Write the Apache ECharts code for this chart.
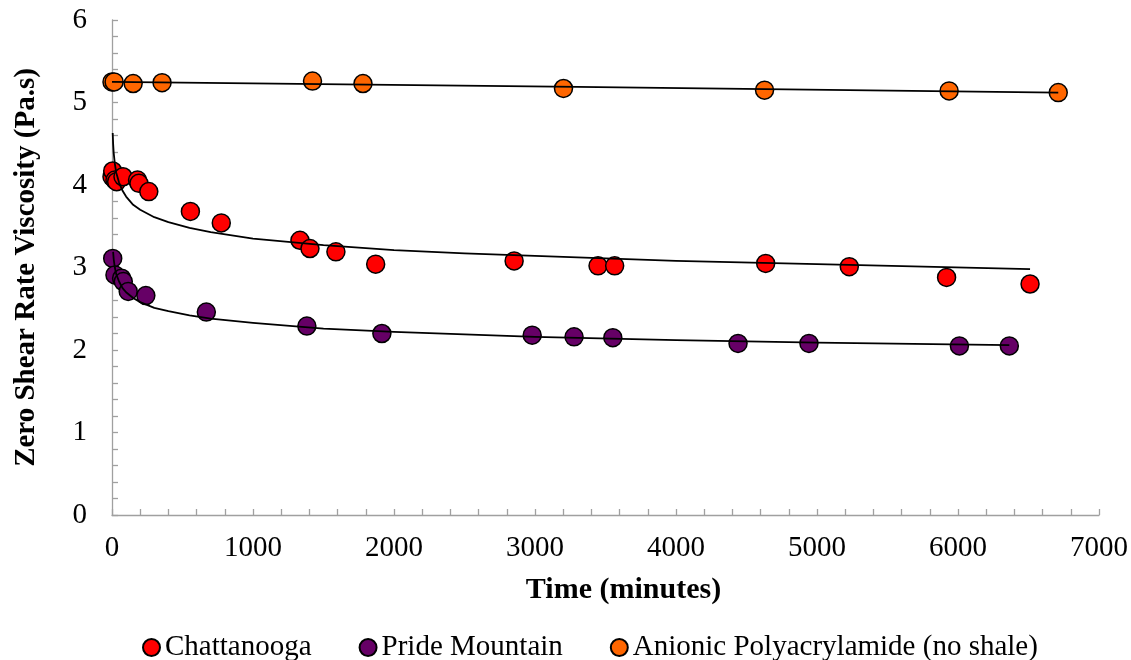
<!DOCTYPE html>
<html>
<head>
<meta charset="utf-8">
<script src="https://cdn.jsdelivr.net/npm/echarts@6/dist/echarts.min.js"></script>
<style>
html,body{margin:0;padding:0;background:#fff;}
#chart{width:1131px;height:660px;}
</style>
</head>
<body>
<div id="chart"></div>
<script>
// ---- data ----
var seriesNames = ['Chattanooga', 'Pride Mountain', 'Anionic Polyacrylamide (no shale)'];

var chattTime = [0, 5, 21, 33, 78, 181, 191, 261, 556, 775, 1333, 1404, 1588, 1870, 2852, 3447, 3565, 4636, 5229, 5919, 6511];
var chattVisc = [4.10, 4.17, 4.06, 4.04, 4.10, 4.06, 4.02, 3.92, 3.68, 3.54, 3.33, 3.23, 3.19, 3.04, 3.08, 3.02, 3.02, 3.05, 3.01, 2.88, 2.80];

var prideTime = [5, 21, 68, 80, 115, 240, 669, 1382, 1914, 2980, 3277, 3552, 4440, 4943, 6010, 6364];
var prideVisc = [3.11, 2.91, 2.87, 2.83, 2.71, 2.66, 2.46, 2.29, 2.20, 2.18, 2.16, 2.15, 2.08, 2.08, 2.05, 2.05];

var apamTime = [0, 15, 150, 355, 1422, 1780, 3202, 4628, 5937, 6711];
var apamVisc = [5.25, 5.25, 5.23, 5.24, 5.26, 5.23, 5.17, 5.15, 5.14, 5.12];

// trend lines, points
var chattTrendTime = [5, 8, 12, 20, 30, 50, 75, 100, 150, 200, 300, 400, 550, 700, 1000, 1500, 2000, 2500, 3000, 4000, 5000, 6511];
var chattTrendVisc = [4.63, 4.50, 4.39, 4.26, 4.15, 4.03, 3.93, 3.86, 3.76, 3.70, 3.61, 3.55, 3.48, 3.43, 3.35, 3.27, 3.21, 3.17, 3.14, 3.08, 3.04, 2.98];

var prideTrendTime = [8, 12, 20, 30, 50, 75, 100, 150, 200, 300, 400, 550, 700, 1000, 1500, 2000, 2500, 3000, 4000, 5000, 6364];
var prideTrendVisc = [3.19, 3.10, 3.00, 2.92, 2.83, 2.75, 2.70, 2.63, 2.58, 2.51, 2.47, 2.42, 2.38, 2.33, 2.26, 2.22, 2.19, 2.16, 2.12, 2.09, 2.06];

var apamTrendTime = [0, 3300, 6711];
var apamTrendVisc = [5.25, 5.19, 5.12];

var xTicks = [0, 1000, 2000, 3000, 4000, 5000, 6000, 7000];
var yTicks = [0, 1, 2, 3, 4, 5, 6];

var colors = ['#FF0000', '#660066', '#FF6600'];

function pairs(t, v) { return t.map(function (x, i) { return [x, v[i]]; }); }

var FONT = 'Liberation Serif';
var axisGray = '#a0a0a0';

var chart = echarts.init(document.getElementById('chart'), null, { renderer: 'canvas' });

function scatter(name, t, v, color) {
  return {
    name: name, type: 'scatter', data: pairs(t, v),
    symbol: 'circle', symbolSize: 18,
    itemStyle: { color: color, borderColor: '#000', borderWidth: 1.5, opacity: 1 },
    z: 2
  };
}
function trend(t, v) {
  return {
    type: 'line', data: pairs(t, v), smooth: false,
    symbol: 'none', silent: true,
    lineStyle: { color: '#000', width: 1.8, join: 'round' },
    z: 5
  };
}

var option = {
  backgroundColor: '#fff',
  animation: false,
  textStyle: { fontFamily: FONT },
  grid: { left: 112, right: 29, top: 20, bottom: 145, containLabel: false },
  legend: {
    data: seriesNames,
    left: 137, top: 628,
    itemWidth: 17, itemHeight: 17, itemGap: 47,
    textStyle: { fontFamily: FONT, fontSize: 29, color: '#000' }
  },
  xAxis: {
    type: 'value', min: xTicks[0], max: xTicks[xTicks.length - 1], interval: 1000,
    name: 'Time (minutes)', nameLocation: 'middle', nameGap: 60,
    nameTextStyle: { fontFamily: FONT, fontSize: 30, fontWeight: 'bold', color: '#000', padding: [0, 0, 0, 36] },
    axisLine: { show: true, lineStyle: { color: axisGray, width: 1.3 } },
    axisTick: { show: true, inside: true, length: 6, lineStyle: { color: axisGray, width: 1.3 } },
    minorTick: { show: true, splitNumber: 5, length: 6, lineStyle: { color: axisGray, width: 1.3 } },
    splitLine: { show: false },
    axisLabel: { fontFamily: FONT, fontSize: 29, color: '#000', margin: 19,
      formatter: function (v) { return String(v); } }
  },
  yAxis: {
    type: 'value', min: yTicks[0], max: yTicks[yTicks.length - 1], interval: 1,
    name: 'Zero Shear Rate Viscosity (Pa.s)', nameLocation: 'middle', nameGap: 71,
    nameTextStyle: { fontFamily: FONT, fontSize: 29, fontWeight: 'bold', color: '#000' },
    axisLine: { show: true, lineStyle: { color: axisGray, width: 1.3 } },
    axisTick: { show: true, inside: true, length: 6, lineStyle: { color: axisGray, width: 1.3 } },
    minorTick: { show: true, splitNumber: 5, length: 6, lineStyle: { color: axisGray, width: 1.3 } },
    splitLine: { show: false },
    axisLabel: { fontFamily: FONT, fontSize: 29, color: '#000', margin: 25,
      formatter: function (v) { return String(v); } }
  },
  series: [
    scatter(seriesNames[0], chattTime, chattVisc, colors[0]),
    scatter(seriesNames[1], prideTime, prideVisc, colors[1]),
    scatter(seriesNames[2], apamTime, apamVisc, colors[2]),
    trend(chattTrendTime, chattTrendVisc),
    trend(prideTrendTime, prideTrendVisc),
    trend(apamTrendTime, apamTrendVisc)
  ]
};
chart.setOption(option);
</script>
</body>
</html>
